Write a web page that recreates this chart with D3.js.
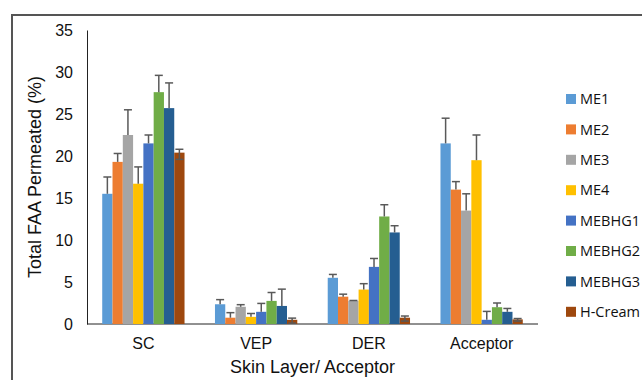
<!DOCTYPE html>
<html>
<head>
<meta charset="utf-8">
<script src="https://cdn.jsdelivr.net/npm/d3@7"></script>
<style>
  body { margin: 0; background: #fff; }
  svg { display: block; }
</style>
</head>
<body>
<svg id="chart"></svg>
<script>
'use strict'

const layers = ['SC', 'VEP', 'DER', 'Acceptor']
const series = ['ME1', 'ME2', 'ME3', 'ME4', 'MEBHG1', 'MEBHG2', 'MEBHG3', 'H-Cream']
const colors = ['#5b9bd5', '#ed7d31', '#a5a5a5', '#ffc000', '#4472c4', '#70ad47', '#255e91', '#9e480e']
const yTicks = [0, 5, 10, 15, 20, 25, 30, 35]

// values per series, in layer order SC, VEP, DER, Acceptor
const ME1 = [15.5, 2.35, 5.5, 21.5]
const ME2 = [19.3, 0.75, 3.25, 16.0]
const ME3 = [22.5, 2.05, 2.75, 13.5]
const ME4 = [16.7, 0.85, 4.1, 19.5]
const MEBHG1 = [21.5, 1.45, 6.8, 0.5]
const MEBHG2 = [27.6, 2.75, 12.8, 2.0]
const MEBHG3 = [25.7, 2.15, 10.9, 1.45]
const HCream = [20.4, 0.5, 0.75, 0.55]

// error (standard deviation) per series
const errME1 = [2.0, 0.55, 0.4, 3.0]
const errME2 = [1.0, 0.6, 0.3, 0.95]
const errME3 = [3.0, 0.25, 0.05, 2.0]
const errME4 = [2.0, 0.4, 0.7, 3.0]
const errMEBHG1 = [1.0, 1.0, 1.0, 1.0]
const errMEBHG2 = [2.0, 1.0, 1.4, 0.5]
const errMEBHG3 = [3.0, 2.0, 0.8, 0.4]
const errHCream = [0.4, 0.2, 0.2, 0.1]

const values = [ME1, ME2, ME3, ME4, MEBHG1, MEBHG2, MEBHG3, HCream]
const errors = [errME1, errME2, errME3, errME4, errMEBHG1, errMEBHG2, errMEBHG3, errHCream]

const width = 642
const height = 380
const margin = { top: 30, right: 104, bottom: 56, left: 87 }

const svg = d3.select('#chart')
  .attr('width', width)
  .attr('height', height)
  .attr('font-family', '"Liberation Sans", Arial, sans-serif')

// outer frame (runs off the right and bottom edges)
svg.append('rect')
  .attr('x', 12)
  .attr('y', 15)
  .attr('width', 700)
  .attr('height', 400)
  .attr('fill', 'none')
  .attr('stroke', '#555')
  .attr('stroke-width', 2)

const x0 = d3.scaleBand()
  .domain(layers)
  .range([margin.left, width - margin.right])
  .paddingInner(0.27)
  .paddingOuter(0.135)

const x1 = d3.scaleBand()
  .domain(series)
  .range([0, x0.bandwidth()])

const y = d3.scaleLinear()
  .domain([0, 35])
  .range([height - margin.bottom, margin.top])

const color = d3.scaleOrdinal().domain(series).range(colors)

// y axis
const yAxis = svg.append('g')
  .attr('transform', `translate(${margin.left},0)`)
  .call(d3.axisLeft(y).tickValues(yTicks).tickSize(0).tickPadding(14))
yAxis.select('.domain').attr('stroke', '#222').attr('stroke-width', 1)
yAxis.selectAll('text').attr('font-size', 16).attr('fill', '#111')

// x axis
const xAxis = svg.append('g')
  .attr('transform', `translate(0,${y(0)})`)
  .call(d3.axisBottom(x0).tickSize(0).tickPadding(14).tickSizeOuter(0))
xAxis.select('.domain')
  .attr('stroke', '#222')
  .attr('stroke-width', 1)
  .attr('d', `M${margin.left},0H${width - margin.right}`)
xAxis.selectAll('text').attr('font-size', 16).attr('fill', '#111')

// bars
const rows = layers.map((layer, i) => ({
  layer,
  items: series.map((s, j) => ({ s, v: values[j][i], e: errors[j][i] }))
}))

const group = svg.append('g')
  .selectAll('g')
  .data(rows)
  .join('g')
  .attr('transform', d => `translate(${x0(d.layer)},0)`)

group.selectAll('rect')
  .data(d => d.items)
  .join('rect')
  .attr('x', d => x1(d.s))
  .attr('y', d => y(d.v))
  .attr('width', x1.bandwidth())
  .attr('height', d => y(0) - y(d.v))
  .attr('fill', d => color(d.s))

// error bars (plus side; H-Cream shows both sides)
const err = group.selectAll('g.err')
  .data(d => d.items)
  .join('g')
  .attr('class', 'err')
  .attr('stroke', '#595959')
  .attr('stroke-width', 1.5)

const cx = d => x1(d.s) + x1.bandwidth() / 2
const lo = d => d.s === 'H-Cream' ? d.v - d.e * 2 : d.v

err.append('line')
  .attr('x1', cx).attr('x2', cx)
  .attr('y1', d => y(lo(d)))
  .attr('y2', d => y(d.v + d.e))
err.append('line')
  .attr('x1', d => cx(d) - 4).attr('x2', d => cx(d) + 4)
  .attr('y1', d => y(d.v + d.e))
  .attr('y2', d => y(d.v + d.e))
err.filter(d => d.s === 'H-Cream').append('line')
  .attr('x1', d => cx(d) - 4).attr('x2', d => cx(d) + 4)
  .attr('y1', d => y(lo(d)))
  .attr('y2', d => y(lo(d)))

// axis titles
svg.append('text')
  .attr('transform', `translate(41,${(y(0) + y(35)) / 2}) rotate(-90)`)
  .attr('text-anchor', 'middle')
  .attr('font-size', 18)
  .attr('fill', '#111')
  .text('Total FAA Permeated (%)')

svg.append('text')
  .attr('x', (margin.left + width - margin.right) / 2 + 0)
  .attr('y', 373)
  .attr('text-anchor', 'middle')
  .attr('font-size', 18)
  .attr('fill', '#111')
  .text('Skin Layer/ Acceptor')

// legend
const legend = svg.append('g')
  .attr('transform', 'translate(566,99)')
  .selectAll('g')
  .data(series)
  .join('g')
  .attr('transform', (d, i) => `translate(0,${i * 30.4})`)

legend.append('rect')
  .attr('x', 0)
  .attr('y', -5)
  .attr('width', 10)
  .attr('height', 10)
  .attr('fill', d => color(d))

legend.append('text')
  .attr('x', 14)
  .attr('dy', '0.36em')
  .attr('font-size', 14.5)
  .attr('font-family', '"Open Sans", "Liberation Sans", sans-serif')
  .attr('fill', '#111')
  .text(d => d)
</script>
</body>
</html>
